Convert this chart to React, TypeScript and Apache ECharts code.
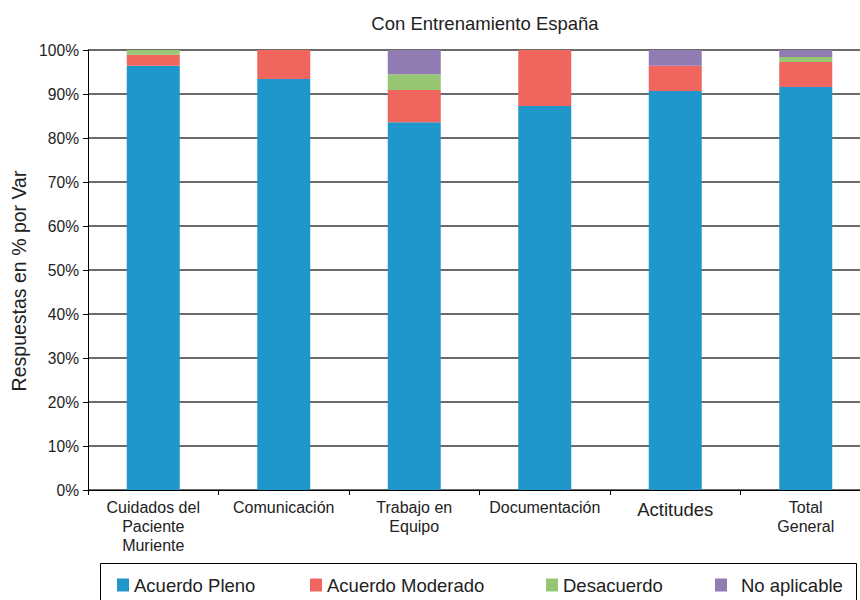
import React, { useEffect, useRef } from "react";
import * as echarts from "echarts";

const categories = [
  "Cuidados del\nPaciente\nMuriente",
  "Comunicación",
  "Trabajo en\nEquipo",
  "Documentación",
  "Actitudes",
  "Total\nGeneral",
];
const seriesNames = ["Acuerdo Pleno", "Acuerdo Moderado", "Desacuerdo", "No aplicable"];
const acuerdoPleno = [96.4, 93.4, 83.6, 87.3, 90.7, 91.6];
const acuerdoModerado = [2.5, 6.6, 7.3, 12.7, 5.7, 5.7];
const desacuerdo = [1.1, 0, 3.6, 0, 0, 1.1];
const noAplicable = [0, 0, 5.5, 0, 3.6, 1.6];
const yTicks = [0, 10, 20, 30, 40, 50, 60, 70, 80, 90, 100];

const FONT = "'Liberation Sans', Arial, Helvetica, sans-serif";
const COLORS = ["#1f97cb", "#f0665f", "#97c673", "#917bb3"];
const LEGEND_LEFT = [117, 310, 546, 715];
const LEGEND_TEXT_PAD = [0, 0, 0, 9];

export default function App() {
  const ref = useRef<HTMLDivElement>(null);
  useEffect(() => {
    document.body.style.margin = "0";
    const chart = echarts.init(ref.current!, undefined, { renderer: "svg" });
    const values = [acuerdoPleno, acuerdoModerado, desacuerdo, noAplicable];
    const series = seriesNames.map((name, i) => ({
      name,
      type: "bar",
      stack: "total",
      data: values[i],
      barWidth: 53,
      itemStyle: { color: COLORS[i] },
      emphasis: { disabled: true },
    }));
    const legends = seriesNames.map((name, i) => ({
      left: LEGEND_LEFT[i],
      top: 574,
      padding: 0,
      itemWidth: 12,
      itemHeight: 13,
      icon: "rect",
      selectedMode: false,
      textStyle: {
        fontSize: 18.5,
        lineHeight: 22,
        color: "#222",
        fontFamily: FONT,
        padding: [0, 0, 0, LEGEND_TEXT_PAD[i]],
      },
      data: [name],
    }));
    chart.setOption({
      animation: false,
      textStyle: { fontFamily: FONT },
      title: {
        text: "Con Entrenamiento España",
        left: 480,
        top: 9,
        textAlign: "center",
        textStyle: { fontSize: 18.5, fontWeight: "normal", color: "#222", fontFamily: FONT },
      },
      legend: legends,
      graphic: [
        {
          type: "rect",
          shape: { x: 100.5, y: 563.5, width: 756, height: 60 },
          style: { fill: "none", stroke: "#000", lineWidth: 1 },
          silent: true,
        },
        {
          type: "text",
          x: 19,
          y: 281,
          rotation: Math.PI / 2,
          style: {
            text: "Respuestas en % por Var",
            fontSize: 19.5,
            fontFamily: FONT,
            fill: "#222",
            align: "center",
            verticalAlign: "middle",
          },
          silent: true,
        },
      ],
      grid: { left: 88, top: 50, width: 783, height: 440, containLabel: false },
      xAxis: {
        type: "category",
        data: categories,
        axisLine: { show: true, lineStyle: { color: "#000", width: 1 } },
        axisTick: { show: true, length: 5, lineStyle: { color: "#000" } },
        axisLabel: {
          margin: 8,
          fontSize: 16,
          lineHeight: 19,
          color: "#222",
          fontFamily: FONT,
          interval: 0,
          formatter: (v: string) => (v === "Actitudes" ? "{big|" + v + "}" : v),
          rich: { big: { fontSize: 18.5, color: "#222", fontFamily: FONT, padding: [4, 0, 0, 0] } },
        },
      },
      yAxis: {
        type: "value",
        min: yTicks[0],
        max: yTicks[yTicks.length - 1],
        interval: 10,
        axisLine: { show: true, lineStyle: { color: "#000", width: 1 } },
        axisTick: { show: true, length: 5, lineStyle: { color: "#000" } },
        axisLabel: {
          formatter: "{value}%",
          fontSize: 15.6,
          color: "#222",
          margin: 9,
          fontFamily: FONT,
        },
        splitLine: { show: true, lineStyle: { color: "#3a3a3a", width: 1.5 } },
      },
      series,
    });
    return () => chart.dispose();
  }, []);
  return (
    <div style={{ width: 860, height: 600, overflow: "hidden", position: "relative" }}>
      <div ref={ref} style={{ width: 880, height: 600 }} />
    </div>
  );
}
